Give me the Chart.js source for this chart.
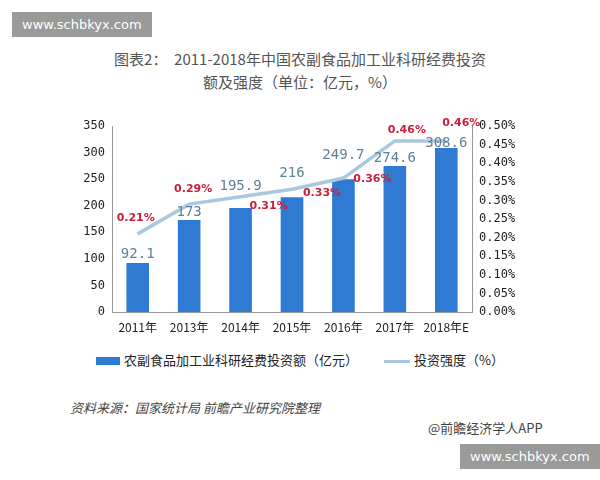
<!DOCTYPE html>
<html>
<head>
<meta charset="utf-8">
<script src="https://cdn.jsdelivr.net/npm/chart.js@4"></script>
<style>
  body { margin: 0; width: 600px; height: 480px; background: #fff; position: relative; font-family: "Noto Sans CJK SC", sans-serif; overflow: hidden; }
  .wm { position: absolute; background: #9a9a9a; color: #fff; font: 13px "DejaVu Sans", sans-serif; padding: 5px 10px; }
  #title { position: absolute; top: 47px; left: 0; width: 600px; text-align: center; color: #555; font-size: 15px; line-height: 23px; }
  #wrap { position: absolute; left: 60px; top: 110px; width: 480px; height: 240px; }
  #legend { position: absolute; top: 350px; left: 96px; font-size: 13px; color: #222; }
  #legend span.box { display: inline-block; width: 24px; height: 8px; background: #2f7ad2; margin-right: 4px; vertical-align: middle; }
  #legend span.ln { display: inline-block; width: 26px; height: 3px; background: #a9c8e0; margin: 0 4px 0 26px; vertical-align: middle; }
  #src { position: absolute; top: 398px; left: 70px; font-size: 13px; color: #444; font-style: italic; }
  #app { position: absolute; top: 418px; left: 428px; font-size: 13px; color: #444; }
</style>
</head>
<body>
<div class="wm" style="left:12px;top:12px;">www.schbkyx.com</div>
<div class="wm" style="left:460px;top:444px;">www.schbkyx.com</div>
<div id="title">图表2：&nbsp; 2011-2018年中国农副食品加工业科研经费投资<br>额及强度（单位：亿元，%）</div>
<div id="wrap"><canvas id="c"></canvas></div>
<div id="legend"><span class="box"></span>农副食品加工业科研经费投资额（亿元）<span class="ln"></span>投资强度（%）</div>
<div id="src">资料来源：国家统计局 前瞻产业研究院整理</div>
<div id="app">@前瞻经济学人APP</div>
<script>
const years = ['2011年', '2013年', '2014年', '2015年', '2016年', '2017年', '2018年E'];
const investment = [92.1, 173, 195.9, 216, 249.7, 274.6, 308.6];
const intensity = [0.21, 0.29, 0.31, 0.33, 0.36, 0.46, 0.46];
const leftTicks = [0, 50, 100, 150, 200, 250, 300, 350];

// label offsets above the bar tops, and (dx, dy) for the red percentage labels
const barOffsets = [-9, -8, -22, -24, -24, -8, -5];
const pctOffsets = [[-2, -16], [4, -15], [28, 9], [30, 4], [29, 1], [12, -11], [15, -18]];

const labelPlugin = {
  id: 'labels',
  afterDatasetsDraw(chart) {
    const ctx = chart.ctx;
    ctx.save();
    ctx.textAlign = 'center';
    ctx.textBaseline = 'middle';
    ctx.font = '14px "DejaVu Sans Mono", monospace';
    ctx.fillStyle = '#5f8096';
    chart.getDatasetMeta(0).data.forEach((bar, i) => {
      ctx.fillText(String(investment[i]), bar.x, bar.y + barOffsets[i]);
    });
    ctx.font = 'bold 11px "DejaVu Sans", sans-serif';
    ctx.fillStyle = '#c8203a';
    chart.getDatasetMeta(1).data.forEach((pt, i) => {
      ctx.fillText(intensity[i].toFixed(2) + '%', pt.x + pctOffsets[i][0], pt.y + pctOffsets[i][1]);
    });
    ctx.restore();
  }
};

const tickFont = { family: '"DejaVu Sans Mono", monospace', size: 12 };

new Chart(document.getElementById('c'), {
  data: {
    labels: years,
    datasets: [
      { type: 'bar', data: investment, yAxisID: 'y', backgroundColor: '#2f7ad2',
        barPercentage: 0.44, categoryPercentage: 1, order: 2 },
      { type: 'line', data: intensity, yAxisID: 'y1', borderColor: '#a9c8e0', borderWidth: 3.5,
        pointRadius: 0, tension: 0, order: 1 }
    ]
  },
  options: {
    responsive: true,
    maintainAspectRatio: false,
    animation: false,
    layout: { padding: { top: 16 } },
    plugins: { legend: { display: false }, tooltip: { enabled: false } },
    scales: {
      x: {
        grid: { display: false, drawTicks: true, tickLength: 4 },
        border: { color: '#999' },
        ticks: { color: '#222', font: { family: '"Noto Sans CJK SC", sans-serif', size: 12 },
                 padding: 4, maxRotation: 0, minRotation: 0, autoSkip: false },
        afterFit(s) { s.height = 38; }
      },
      y: {
        position: 'left', min: 0, max: 350,
        afterBuildTicks(s) { s.ticks = leftTicks.map(v => ({ value: v })); },
        grid: { display: false, drawTicks: true, tickLength: 4 },
        border: { color: '#999' },
        ticks: { color: '#222', font: tickFont },
        afterFit(s) { s.width = 52; }
      },
      y1: {
        position: 'right', min: 0, max: 0.5,
        grid: { display: false, drawTicks: true, tickLength: 4 },
        border: { color: '#999' },
        ticks: { stepSize: 0.05, color: '#222', font: tickFont, callback: v => v.toFixed(2) + '%' },
        afterFit(s) { s.width = 68; }
      }
    }
  },
  plugins: [labelPlugin]
});
</script>
</body>
</html>
